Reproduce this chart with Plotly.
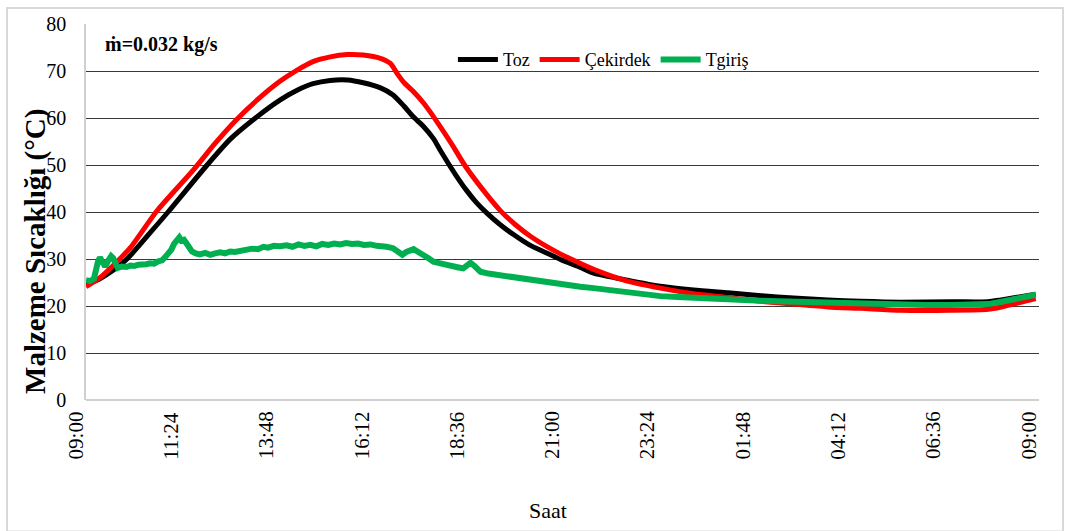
import plotly.graph_objects as go

# Time axis: minutes elapsed since 09:00, spanning one full day
tick_minutes = [0, 144, 288, 432, 576, 720, 864, 1008, 1152, 1296, 1440]
tick_labels = ["09:00", "11:24", "13:48", "16:12", "18:36", "21:00",
               "23:24", "01:48", "04:12", "06:36", "09:00"]

# Toz (powder) temperature, °C
toz_t = [0, 21, 41, 62, 97, 124, 183, 218, 256, 293, 319, 343, 369, 395, 419,
         445, 464, 480, 495, 510, 525, 535, 548, 560, 575, 590, 607, 625, 646,
         670, 697, 717, 747, 767, 818, 868, 918, 970, 1020, 1069, 1121, 1171,
         1231, 1307, 1363, 1383, 1435]
toz_v = [24.5, 25.8, 27.6, 30.0, 35.6, 40.0, 50.0, 55.5, 60.0, 63.8, 65.9,
         67.3, 68.0, 68.1, 67.5, 66.4, 64.9, 62.6, 60.2, 58.2, 55.6, 53.2,
         50.2, 47.6, 44.6, 42.0, 39.6, 37.4, 35.2, 33.0, 31.2, 29.9, 28.2,
         27.0, 25.5, 24.2, 23.4, 22.8, 22.2, 21.7, 21.3, 21.0, 20.8, 20.9,
         20.9, 21.3, 22.5]

# Çekirdek (core) temperature, °C
cekirdek_t = [0, 21, 41, 67, 107, 162, 195, 227, 260, 293, 319, 343, 369, 395,
              419, 445, 460, 470, 480, 495, 510, 520, 535, 555, 572, 596, 626,
              648, 672, 706, 740, 767, 818, 868, 918, 970, 1020, 1069, 1121,
              1171, 1231, 1307, 1363, 1383, 1435]
cekirdek_v = [24.1, 26.0, 28.6, 32.4, 40.2, 48.9, 54.6, 59.6, 64.0, 67.8,
              70.2, 72.0, 73.0, 73.5, 73.4, 72.7, 71.6, 69.5, 67.6, 65.6,
              63.2, 61.3, 58.2, 53.9, 50.0, 45.4, 40.3, 37.4, 34.8, 31.9,
              29.5, 27.8, 25.3, 23.8, 22.6, 21.8, 21.0, 20.4, 19.8, 19.5,
              19.1, 19.1, 19.3, 19.8, 21.6]

# Tgiris (inlet air) temperature, °C
tgiris_t = [0, 6, 12, 15, 18, 21, 24, 29, 33, 38, 41, 44, 48, 54, 61, 67, 73,
            79, 85, 91, 97, 103, 109, 115, 119, 124, 129, 133, 138, 141, 144,
            148, 151, 156, 160, 166, 172, 180, 188, 195, 203, 210, 218, 225,
            233, 244, 251, 260, 268, 275, 284, 293, 303, 312, 321, 330, 339,
            348, 357, 366, 375, 384, 393, 402, 411, 420, 430, 439, 445, 454,
            464, 472, 478, 484, 490, 495, 502, 510, 517, 525, 535, 546, 555,
            563, 570, 576, 581, 587, 596, 608, 622, 634, 646, 659, 672, 697,
            717, 747, 767, 793, 818, 846, 868, 894, 918, 944, 970, 997, 1020,
            1045, 1069, 1095, 1121, 1148, 1171, 1201, 1231, 1269, 1307, 1337,
            1363, 1383, 1405, 1435]
tgiris_v = [25.5, 25.3, 25.8, 28.5, 29.4, 30.3, 29.6, 28.4, 29.5, 30.6, 30.2,
            29.0, 28.1, 28.4, 28.3, 28.6, 28.5, 28.8, 28.7, 28.9, 29.1, 29.0,
            29.5, 29.7, 30.3, 31.0, 32.0, 33.2, 34.3, 34.6, 33.9, 34.1, 33.5,
            32.6, 31.6, 31.2, 31.0, 31.3, 30.9, 31.2, 31.4, 31.2, 31.6, 31.5,
            31.8, 31.9, 32.2, 32.1, 32.6, 32.4, 32.8, 32.7, 32.9, 32.6, 33.1,
            32.8, 33.0, 32.7, 33.2, 33.0, 33.3, 33.1, 33.4, 33.2, 33.3, 33.0,
            33.1, 32.8, 32.8, 32.6, 32.3, 31.6, 30.9, 31.5, 31.9, 32.1, 31.5,
            30.9, 30.2, 29.4, 29.0, 28.7, 28.4, 28.2, 28.0, 28.8, 29.2, 28.5,
            27.3, 26.9, 26.6, 26.3, 26.1, 25.8, 25.5, 25.0, 24.5, 24.1, 23.8,
            23.3, 22.8, 22.4, 22.1, 21.9, 21.7, 21.5, 21.4, 21.2, 21.1, 21.0,
            20.9, 20.8, 20.7, 20.6, 20.4, 20.2, 20.1, 20.2, 20.2, 20.3, 20.4,
            20.9, 21.5, 22.4]

SERIF = "Liberation Serif, Times New Roman, serif"

fig = go.Figure()
fig.add_trace(go.Scatter(x=toz_t, y=toz_v, name="Toz", mode="lines",
                         line=dict(color="#000000", width=5, shape="spline",
                                   smoothing=0.6)))
fig.add_trace(go.Scatter(x=cekirdek_t, y=cekirdek_v, name="Çekirdek",
                         mode="lines",
                         line=dict(color="#ff0000", width=5, shape="spline",
                                   smoothing=0.6)))
fig.add_trace(go.Scatter(x=tgiris_t, y=tgiris_v, name="Tgiriş", mode="lines",
                         line=dict(color="#00b050", width=6)))

# light outer frame around the whole chart
fig.add_shape(type="rect", xref="paper", yref="paper",
              x0=-0.0829, x1=1.0252, y0=-0.35, y1=1.0426,
              line=dict(color="#d9d9d9", width=2), fillcolor="rgba(0,0,0,0)",
              layer="below")

fig.add_annotation(text="<b>ṁ=0.032 kg/s</b>", xref="paper", yref="paper",
                   x=0.018, y=0.946, xanchor="left", yanchor="middle",
                   showarrow=False,
                   font=dict(family=SERIF, size=20, color="#000000"))

# vertical axis title, set slightly below the plot centre
fig.add_annotation(text="<b>Malzeme Sıcaklığı (°C)</b>", xref="paper",
                   yref="paper", x=-0.053, y=0.395, xanchor="center",
                   yanchor="middle", textangle=-90, showarrow=False,
                   font=dict(family=SERIF, size=29, color="#000000"))

# upright time labels under each tick
for tm, lab in zip(tick_minutes, tick_labels):
    fig.add_annotation(text=lab, x=tm, xref="x", y=-0.025, yref="paper",
                       xanchor="center", yanchor="top", xshift=-10,
                       textangle=-90, showarrow=False,
                       font=dict(family=SERIF, size=21, color="#000000"))

fig.add_annotation(text="Saat", xref="paper", yref="paper", x=0.485,
                   y=-0.293, xanchor="center", yanchor="middle",
                   showarrow=False,
                   font=dict(family=SERIF, size=22, color="#000000"))

fig.update_layout(
    width=1066, height=531,
    margin=dict(l=86, r=27, t=24, b=131),
    paper_bgcolor="#ffffff", plot_bgcolor="#ffffff",
    font=dict(family=SERIF, color="#000000"),
    showlegend=True,
    legend=dict(orientation="h", x=0.385, y=0.905, xanchor="left",
                yanchor="middle", bgcolor="rgba(0,0,0,0)",
                font=dict(family=SERIF, size=18, color="#000000"),
                itemwidth=40, tracegroupgap=0),
)

fig.update_xaxes(range=[0, 1440], tickmode="array", tickvals=tick_minutes,
                 showticklabels=False, showgrid=False,
                 zeroline=False, showline=False, ticks="")

fig.update_yaxes(range=[0, 80], dtick=10, tick0=0, showgrid=True,
                 gridcolor="#3a3a3a", gridwidth=1.3,
                 zeroline=True, zerolinecolor="#d0d0d0", zerolinewidth=1.5,
                 showline=True, linecolor="#d0d0d0", linewidth=1.5,
                 ticks="", ticklabelstandoff=14,
                 tickfont=dict(family=SERIF, size=20, color="#000000"))

fig.write_html("out.html")
